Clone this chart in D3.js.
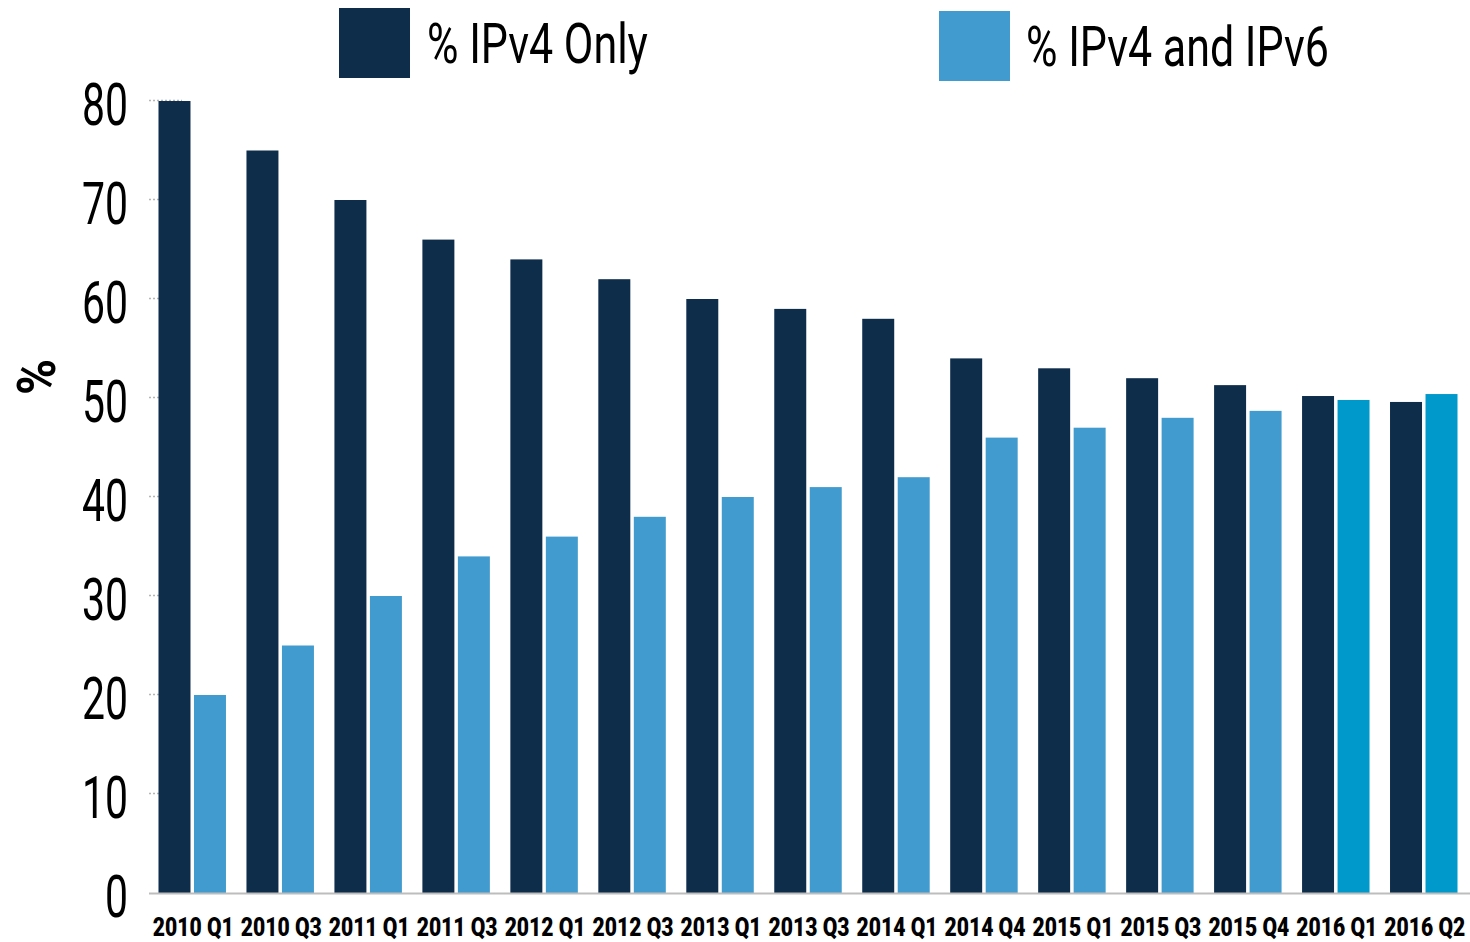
<!DOCTYPE html>
<html>
<head>
<meta charset="utf-8">
<script src="https://cdn.jsdelivr.net/npm/d3@7"></script>
<style>
  body { margin: 0; background: #fff; }
  text { font-family: Roboto, "Open Sans", sans-serif; }
</style>
</head>
<body>
<div id="chart"></div>
<script>
// data
const categories = ["2010 Q1", "2010 Q3", "2011 Q1", "2011 Q3", "2012 Q1", "2012 Q3", "2013 Q1",
    "2013 Q3", "2014 Q1", "2014 Q4", "2015 Q1", "2015 Q3", "2015 Q4", "2016 Q1", "2016 Q2"];
const ipv4Only = [80, 75, 70, 66, 64, 62, 60, 59, 58, 54, 53, 52, 51.3, 50.2, 49.6];
const ipv4And6 = [20, 25, 30, 34, 36, 38, 40, 41, 42, 46, 47, 48, 48.7, 49.8, 50.4];
const highlighted = ["2016 Q1", "2016 Q2"];
const seriesNames = ["% IPv4 Only", "% IPv4 and IPv6"];
const yTicks = [0, 10, 20, 30, 40, 50, 60, 70, 80];

const width = 1470, height = 942;
const dark = "#0d2d4b", light = "#419bcf", bright = "#0099cb";

const svg = d3.select("#chart")
    .append("svg")
    .attr("width", width)
    .attr("height", height);

// no condensed font installed, so squeeze text horizontally
// so that a sample string gets the width it has in the picture
function squeeze(sel, sample, targetWidth) {
    const probe = svg.append("text")
        .attr("font-size", sel.attr("font-size"))
        .attr("font-weight", sel.attr("font-weight"))
        .text(sample);
    const sx = targetWidth / probe.node().getComputedTextLength();
    probe.remove();
    sel.each(function() {
        const t = d3.select(this);
        const x = +t.attr("x"), y = +t.attr("y");
        t.attr("x", 0).attr("y", 0)
            .attr("transform", `translate(${x},${y}) scale(${sx},1)`);
    });
}

const x0 = d3.scaleBand()
    .domain(categories)
    .range([149.5, 1466.5])
    .paddingInner(20.5 / 88)
    .paddingOuter(9 / 88);

const x1 = d3.scaleBand()
    .domain(seriesNames)
    .range([0, x0.bandwidth()])
    .paddingInner(3.5 / 35.5);

const y = d3.scaleLinear()
    .domain([0, 80])
    .range([893, 101]);

// short dotted tick marks
svg.append("g")
    .selectAll("line")
    .data(yTicks.filter(d => d > 0))
    .enter()
    .append("line")
    .attr("x1", 149)
    .attr("x2", 182)
    .attr("y1", d => y(d) - 0.5)
    .attr("y2", d => y(d) - 0.5)
    .attr("stroke", "#b5b5b5")
    .attr("stroke-width", 1.5)
    .attr("stroke-dasharray", "2,2");

// y tick labels
const yLabels = svg.append("g")
    .selectAll("text")
    .data(yTicks)
    .enter()
    .append("text")
    .text(d => d)
    .attr("x", 128)
    .attr("y", d => y(d) + 24)
    .attr("text-anchor", "end")
    .attr("font-size", 59)
    .attr("fill", "#000");
squeeze(yLabels, "80", 46);

// y title
svg.append("text")
    .text("%")
    .attr("transform", "translate(55,377) rotate(-90) scale(0.92,1)")
    .attr("text-anchor", "middle")
    .attr("font-size", 53)
    .attr("font-weight", "bold")
    .attr("fill", "#000");

const rows = categories.map((c, i) => ({ cat: c, vals: [ipv4Only[i], ipv4And6[i]] }));

const groups = svg.append("g")
    .selectAll("g")
    .data(rows)
    .enter()
    .append("g")
    .attr("transform", d => `translate(${x0(d.cat)},0)`);

groups.selectAll("rect")
    .data(d => d.vals.map((v, j) => ({ cat: d.cat, series: seriesNames[j], j: j, v: v })))
    .enter()
    .append("rect")
    .attr("x", d => x1(d.series))
    .attr("y", d => y(d.v))
    .attr("width", x1.bandwidth())
    .attr("height", d => y(0) - y(d.v))
    .attr("fill", d => d.j === 0 ? dark : (highlighted.includes(d.cat) ? bright : light));

// baseline
svg.append("line")
    .attr("x1", 149)
    .attr("x2", width)
    .attr("y1", 893.5)
    .attr("y2", 893.5)
    .attr("stroke", "#bdbdbd")
    .attr("stroke-width", 2);

// x labels
const xLabels = svg.append("g")
    .selectAll("text")
    .data(categories)
    .enter()
    .append("text")
    .text(d => d)
    .attr("x", d => x0(d) + x0.bandwidth() / 2 + 1)
    .attr("y", 936)
    .attr("text-anchor", "middle")
    .attr("font-size", 26)
    .attr("font-weight", 900)
    .attr("fill", "#000");
squeeze(xLabels, "2010 Q1", 81);

// legend
const legendItems = [
    { name: seriesNames[0], color: dark, rx: 339, ry: 8, tx: 427, ty: 63 },
    { name: seriesNames[1], color: light, rx: 939, ry: 11, tx: 1026, ty: 66 }
];
const legend = svg.append("g")
    .selectAll("g")
    .data(legendItems)
    .enter()
    .append("g");
legend.append("rect")
    .attr("x", d => d.rx)
    .attr("y", d => d.ry)
    .attr("width", 71)
    .attr("height", 70)
    .attr("fill", d => d.color);
const legendText = legend.append("text")
    .text(d => d.name)
    .attr("x", d => d.tx)
    .attr("y", d => d.ty)
    .attr("font-size", 55)
    .attr("fill", "#000");
squeeze(legendText, seriesNames[0], 221);
</script>
</body>
</html>
